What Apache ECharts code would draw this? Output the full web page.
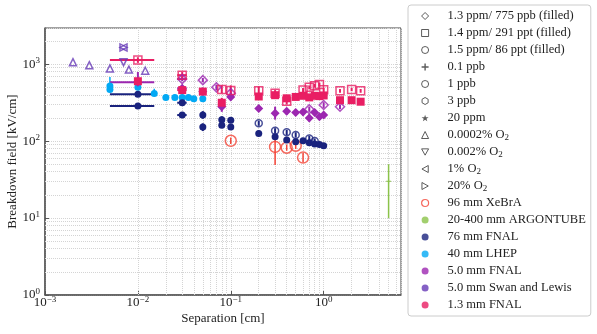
<!DOCTYPE html>
<html>
<head>
<meta charset="utf-8">
<script src="https://cdn.jsdelivr.net/npm/echarts@6/dist/echarts.min.js"></script>
</head>
<body style="margin:0">
<div id="chart" style="width:597px;height:334px"></div>
<script>
// rows: [separation cm, field kV/cm, field low, field high, (sep low, sep high)]
var fnal13Open = [
  [0.01, 1130, 1040, 1230, 0.005, 0.015],
  [0.03, 720, 660, 790, 0.0265, 0.0335],
  [0.08, 470, 420, 530],
  [0.1, 455, 390, 530],
  [0.2, 450, 400, 510],
  [0.3, 420, 380, 460],
  [0.4, 330, 300, 360],
  [0.6, 460, 430, 490],
  [0.7, 500, 470, 530],
  [0.8, 525, 495, 555],
  [0.9, 545, 515, 575],
  [1.0, 465, 435, 495],
  [1.5, 450, 425, 475],
  [2.0, 470, 445, 495],
  [2.5, 450, 425, 475]
];
var fnal13Fill = [
  [0.01, 600, 560, 640],
  [0.03, 460, 420, 500, 0.0265, 0.0335],
  [0.05, 440, 410, 470],
  [0.08, 315, 275, 365],
  [0.2, 380, 350, 410],
  [0.3, 395, 360, 430],
  [0.4, 360, 335, 385],
  [0.5, 375, 350, 400],
  [0.6, 388, 360, 415],
  [0.7, 370, 345, 395],
  [0.8, 388, 360, 415],
  [0.9, 384, 360, 410],
  [1.0, 392, 365, 420],
  [1.5, 340, 320, 360],
  [2.0, 340, 320, 360],
  [2.5, 325, 305, 345]
];
var fnal50Open = [
  [0.03, 640, 600, 690, 0.0265, 0.0335],
  [0.05, 620, 580, 660],
  [0.07, 500, 460, 540],
  [0.1, 420, 380, 460],
  [0.7, 260, 240, 280],
  [1.0, 295, 270, 320],
  [1.5, 280, 260, 300]
];
var fnal50Fill = [
  [0.01, 580, 470, 790, 0.005, 0.015],
  [0.03, 485, 450, 520, 0.0265, 0.0335],
  [0.05, 440, 400, 480],
  [0.08, 280, 240, 330],
  [0.1, 375, 340, 410],
  [0.2, 265, 245, 285],
  [0.3, 230, 190, 280],
  [0.4, 245, 220, 270],
  [0.5, 236, 215, 258],
  [0.6, 238, 215, 262],
  [0.7, 200, 180, 222],
  [0.8, 236, 215, 258],
  [0.9, 207, 188, 228],
  [1.0, 218, 198, 240]
];
var fnal76Fill = [
  [0.01, 405, 395, 415, 0.005, 0.015],
  [0.01, 285, 278, 292, 0.005, 0.015],
  [0.03, 315, 295, 335, 0.0265, 0.0335],
  [0.03, 218, 208, 228, 0.0265, 0.0335],
  [0.05, 218, 195, 245],
  [0.05, 152, 135, 170],
  [0.08, 190, 172, 210],
  [0.08, 161, 148, 176],
  [0.1, 187, 172, 204],
  [0.1, 152, 140, 165],
  [0.2, 126, 116, 137],
  [0.3, 114, 104, 125],
  [0.4, 103, 95, 112],
  [0.5, 98, 90, 107],
  [0.6, 101, 93, 110],
  [0.7, 95, 87, 104],
  [0.8, 92, 85, 100],
  [0.9, 90, 83, 98],
  [1.0, 87, 80, 94]
];
var fnal76Open = [
  [0.2, 170, 158, 183],
  [0.3, 136, 126, 147],
  [0.4, 130, 120, 140],
  [0.5, 120, 111, 130],
  [0.7, 108, 100, 117],
  [0.8, 100, 93, 108]
];
var lhep40 = [
  [0.005, 520, 430, 680],
  [0.005, 470, 440, 500],
  [0.01, 500, 470, 620],
  [0.015, 415, 400, 480],
  [0.02, 370, 355, 400],
  [0.025, 370, 355, 400],
  [0.03, 370, 355, 400],
  [0.035, 370, 355, 400],
  [0.04, 355, 340, 385],
  [0.05, 355, 340, 385]
];
var xebra96 = [
  [0.1, 101, 92, 111],
  [0.3, 84, 49, 114],
  [0.4, 82, 75, 90],
  [0.5, 87, 79, 96],
  [0.6, 61, 53, 70]
];
var argontube = [[5, 30, 10, 50]];
var swanUp = [[0.002, 1060], [0.003, 970], [0.005, 880], [0.008, 850], [0.012, 820]];
var swanDown = [[0.007, 1060]];
var swanSide = [[0.007, 1650]];

var purityNames = ['1.3 ppm/ 775 ppb (filled)', '1.4 ppm/ 291 ppt (filled)', '1.5 ppm/ 86 ppt (filled)',
  '0.1 ppb', '1 ppb', '3 ppb', '20 ppm', '0.0002% O2', '0.002% O2', '1% O2', '20% O2'];
var purityIcons = ['diamond', 'rect', 'circle',
  'path://M4,0H6V4H10V6H6V10H4V6H0V4H4Z', 'circle',
  'path://M5,0L9.33,2.5V7.5L5,10L0.67,7.5V2.5Z',
  'path://M5,0L6.2,3.6L10,3.6L7,5.9L8.1,9.5L5,7.3L1.9,9.5L3,5.9L0,3.6L3.8,3.6Z',
  'triangle', 'path://M0,0H10L5,9Z', 'path://M10,0V10L1,5Z', 'path://M0,0V10L9,5Z'];
var expNames = ['96 mm XeBrA', '20-400 mm ARGONTUBE', '76 mm FNAL', '40 mm LHEP', '5.0 mm FNAL', '5.0 mm Swan and Lewis', '1.3 mm FNAL'];
var expColors = ['#f44336', '#8bc34a', '#1a237e', '#03a9f4', '#9c27b0', '#673ab7', '#e91e63'];

var SERIF = 'Liberation Serif';
var xMin = 0.001, xMax = 6.8, yMin = 1, yMax = 2950;

var minorX = [], minorY = [];
for (var n = -3; n <= 0; n++) for (var k = 2; k <= 9; k++) { var v = k * Math.pow(10, n); if (v < xMax) minorX.push({xAxis: v}); }
for (var n = 0; n <= 3; n++) for (var k = 2; k <= 9; k++) { var v = k * Math.pow(10, n); if (v < yMax) minorY.push({yAxis: v}); }

function powLabel(v) {
  var e = Math.log10(v), r = Math.round(e);
  if (Math.abs(e - r) > 1e-6) return '';
  return '{b|10}{s|' + (r < 0 ? '\u2212' + (-r) : r) + '}';
}
var powRich = {
  b: {fontFamily: SERIF, fontSize: 13, color: '#222', lineHeight: 16},
  s: {fontFamily: SERIF, fontSize: 9, color: '#222', lineHeight: 9, verticalAlign: 'top'}
};

function errSeries(rows, color, w) {
  return {
    type: 'custom', name: 'err', silent: true, z: 2,
    encode: {x: 0, y: 1},
    data: rows.map(function (r) {
      return [r[0], r[1], r[2] === undefined ? r[1] : r[2], r[3] === undefined ? r[1] : r[3],
        r[4] === undefined ? r[0] : r[4], r[5] === undefined ? r[0] : r[5]];
    }),
    renderItem: function (params, api) {
      var x = api.value(0), y = api.value(1);
      var a = api.coord([x, api.value(2)]), b = api.coord([x, api.value(3)]);
      var c = api.coord([api.value(4), y]), d = api.coord([api.value(5), y]);
      return {type: 'group', children: [
        {type: 'line', shape: {x1: a[0], y1: a[1], x2: b[0], y2: b[1]}, style: {stroke: color, lineWidth: w}},
        {type: 'line', shape: {x1: c[0], y1: c[1], x2: d[0], y2: d[1]}, style: {stroke: color, lineWidth: w}}
      ]};
    }
  };
}
function pts(rows, color, symbol, size, hollow, rotate) {
  return {
    type: 'scatter', name: 'pts', z: 3, data: rows, symbol: symbol, symbolSize: size, symbolRotate: rotate || 0,
    silent: true,
    itemStyle: hollow ? {color: 'rgba(0,0,0,0)', borderColor: color, borderWidth: 1.5} : {color: color, opacity: 1}
  };
}

var series = [];
// legend entries only
var legendData = [];
purityNames.forEach(function (nm, i) {
  var hollow = !(i === 3 || i === 6);
  series.push({type: 'scatter', name: nm, data: []});
  legendData.push({name: nm, icon: purityIcons[i],
    itemStyle: hollow ? {color: 'rgba(0,0,0,0)', borderColor: '#333', borderWidth: 1} : {color: '#333', borderWidth: 0}});
});
expNames.forEach(function (nm, i) {
  series.push({type: 'scatter', name: nm, data: []});
  legendData.push({name: nm, icon: 'circle',
    itemStyle: i === 0 ? {color: 'rgba(0,0,0,0)', borderColor: expColors[0], borderWidth: 1.2} : {color: expColors[i], borderWidth: 0}});
});
// minor grid lines
series.push({type: 'scatter', name: 'grid', data: [], silent: true, z: 1,
  markLine: {silent: true, symbol: 'none', label: {show: false}, z: 1,
    lineStyle: {color: '#d4d4d4', type: 'dotted', width: 1}, data: minorX.concat(minorY)}});

series.push(errSeries(argontube, '#8bc34a', 1.5));
series.push(errSeries(xebra96, '#f44336', 1.5));
series.push(errSeries(lhep40, '#03a9f4', 1.5));
series.push(errSeries(fnal76Fill, '#1a237e', 2));
series.push(errSeries(fnal76Open, '#1a237e', 2));
series.push(errSeries(fnal50Fill, '#9c27b0', 2));
series.push(errSeries(fnal50Open, '#9c27b0', 2));
series.push(errSeries(fnal13Fill, '#e91e63', 2));
series.push(errSeries(fnal13Open, '#e91e63', 2));

series.push(pts(argontube, '#8bc34a', 'path://M4,0H6V4H10V6H6V10H4V6H0V4H4Z', 5, false));
series.push(pts(xebra96, '#f44336', 'circle', 11, true));
series.push(pts(lhep40, '#03a9f4', 'circle', 7, false));
series.push(pts(fnal76Fill, '#1a237e', 'circle', 7, false));
series.push(pts(fnal76Open, '#1a237e', 'circle', 7, true));
series.push(pts(fnal50Fill, '#9c27b0', 'diamond', 9, false));
series.push(pts(fnal50Open, '#9c27b0', 'diamond', 9, true));
series.push(pts(fnal13Fill, '#e91e63', 'rect', 8, false));
series.push(pts(fnal13Open, '#e91e63', 'rect', 8, true));
series.push(pts(swanUp, '#673ab7', 'triangle', 7, true));
series.push(pts(swanDown, '#673ab7', 'triangle', 7, true, 180));
series.push(pts(swanSide, '#673ab7', 'triangle', 7, true, 90));
series.push(pts(swanSide, '#673ab7', 'triangle', 7, true, -90));

var chart = echarts.init(document.getElementById('chart'));
chart.setOption({
  animation: false,
  backgroundColor: '#fff',
  grid: {left: 45, right: 196, top: 28, bottom: 39, show: true, borderColor: '#444', borderWidth: 1,
    outerBoundsMode: 'none'},
  legend: {
    orient: 'vertical', left: 408, top: 5, padding: [4, 5, 4, 13],
    itemWidth: 7, itemHeight: 7, itemGap: 3,
    borderColor: '#ccc', borderWidth: 1, borderRadius: 3, backgroundColor: '#fff',
    selectedMode: false,
    data: legendData,
    formatter: function (nm) { return nm.replace(/O2$/, 'O{sub|2}'); },
    textStyle: {fontFamily: SERIF, fontSize: 12.5, color: '#222', lineHeight: 14, padding: [0, 0, 0, 14],
      rich: {sub: {fontFamily: SERIF, fontSize: 9, color: '#222', lineHeight: 8, verticalAlign: 'bottom'}}}
  },
  xAxis: {
    type: 'log', logBase: 10, min: xMin, max: xMax,
    name: 'Separation [cm]', nameLocation: 'middle', nameGap: 17, nameMoveOverlap: false,
    nameTextStyle: {fontFamily: SERIF, fontSize: 13, color: '#222'},
    axisLine: {lineStyle: {color: '#555', width: 1.5}},
    axisTick: {inside: true, length: 4, lineStyle: {color: '#555'}},
    axisLabel: {formatter: powLabel, rich: powRich, margin: 0, showMaxLabel: false},
    splitLine: {show: true, lineStyle: {color: '#d4d4d4', type: 'dotted'}}
  },
  yAxis: {
    type: 'log', logBase: 10, min: yMin, max: yMax,
    name: 'Breakdown field [kV/cm]', nameLocation: 'middle', nameGap: 26, nameMoveOverlap: false,
    nameTextStyle: {fontFamily: SERIF, fontSize: 13, color: '#222'},
    axisLine: {lineStyle: {color: '#555', width: 1.5}},
    axisTick: {inside: true, length: 4, lineStyle: {color: '#555'}},
    axisLabel: {formatter: powLabel, rich: powRich, margin: 5, showMaxLabel: false},
    splitLine: {show: true, lineStyle: {color: '#d4d4d4', type: 'dotted'}}
  },
  series: series
});
</script>
</body>
</html>
